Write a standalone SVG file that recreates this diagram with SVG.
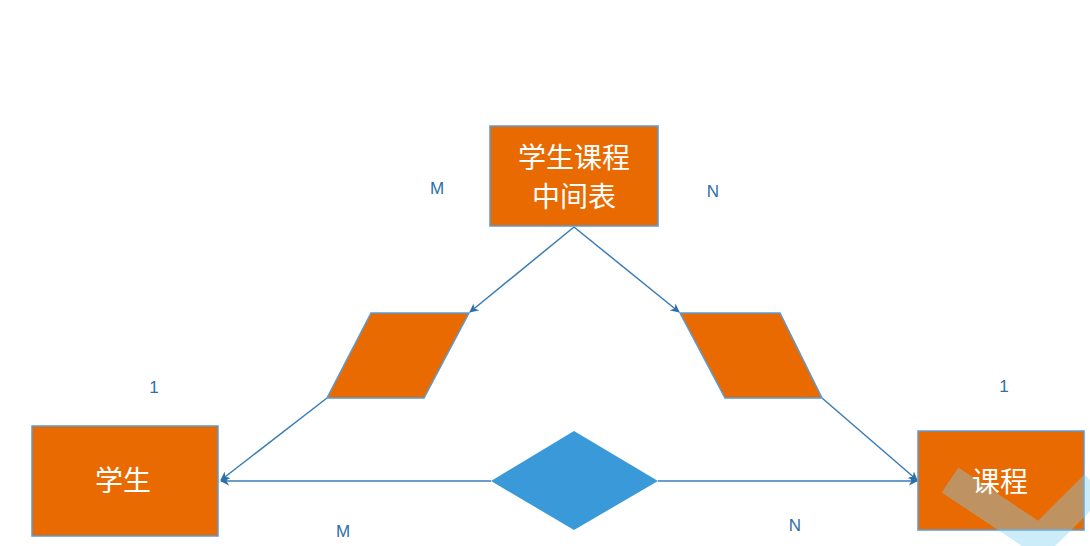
<svg xmlns="http://www.w3.org/2000/svg" width="1090" height="546" viewBox="0 0 1090 546">
<style>
.box{fill:#e96a00;stroke:#5b9bd5;stroke-width:1.5}
.t{font-family:"Noto Sans CJK SC",sans-serif;font-size:28px;fill:#fff;text-anchor:middle}
.l{font-family:"Liberation Sans",sans-serif;font-size:17px;fill:#2e6fa8;text-anchor:middle}
.c{stroke:#3a7db5;stroke-width:1.5;fill:none;marker-end:url(#a)}
</style>
<defs><marker id="a" viewBox="0 0 10 10" refX="9" refY="5" markerWidth="9" markerHeight="9" orient="auto" markerUnits="userSpaceOnUse"><path d="M0,0L10,5L0,10L3,5z" fill="#2e6fa8"/></marker></defs>
<rect width="1090" height="546" fill="#fff"/>
<g id="connectors">
<line class="c" x1="574" y1="227" x2="470" y2="312"/>
<line class="c" x1="574" y1="227" x2="679" y2="312"/>
<line class="c" x1="327" y1="398" x2="221" y2="480"/>
<line class="c" x1="822" y1="398" x2="917" y2="480"/>
<line class="c" x1="491" y1="481" x2="221" y2="481"/>
<line class="c" x1="658" y1="481" x2="917" y2="481"/>
</g>
<g id="mid"><rect class="box" x="490" y="126" width="168" height="100"/><text class="t" x="574" y="168">学生课程</text><text class="t" x="574" y="207">中间表</text></g>
<g id="p1"><polygon class="box" points="371,313 469,313 424,398 327,398"/></g>
<g id="p2"><polygon class="box" points="680,313 780,313 822,398 725,398"/></g>
<g id="stu"><rect class="box" x="32" y="426" width="186" height="110"/><text class="t" x="123" y="491">学生</text></g>
<g id="course"><rect class="box" x="918" y="431" width="166" height="99"/>
<polyline points="950,480 1040,540 1095,485" fill="none" stroke="#7fd0f2" stroke-width="30" opacity="0.4"/>
<text class="t" x="1000" y="492">课程</text></g>
<g id="rel"><polygon points="574,431 658,481 574,530 491,481" fill="#3a9ad9"/></g>
<g class="l"><text x="437" y="194">M</text><text x="713" y="197">N</text><text x="154" y="393">1</text><text x="1004" y="392">1</text><text x="343" y="537">M</text><text x="795" y="531">N</text></g>
</svg>
